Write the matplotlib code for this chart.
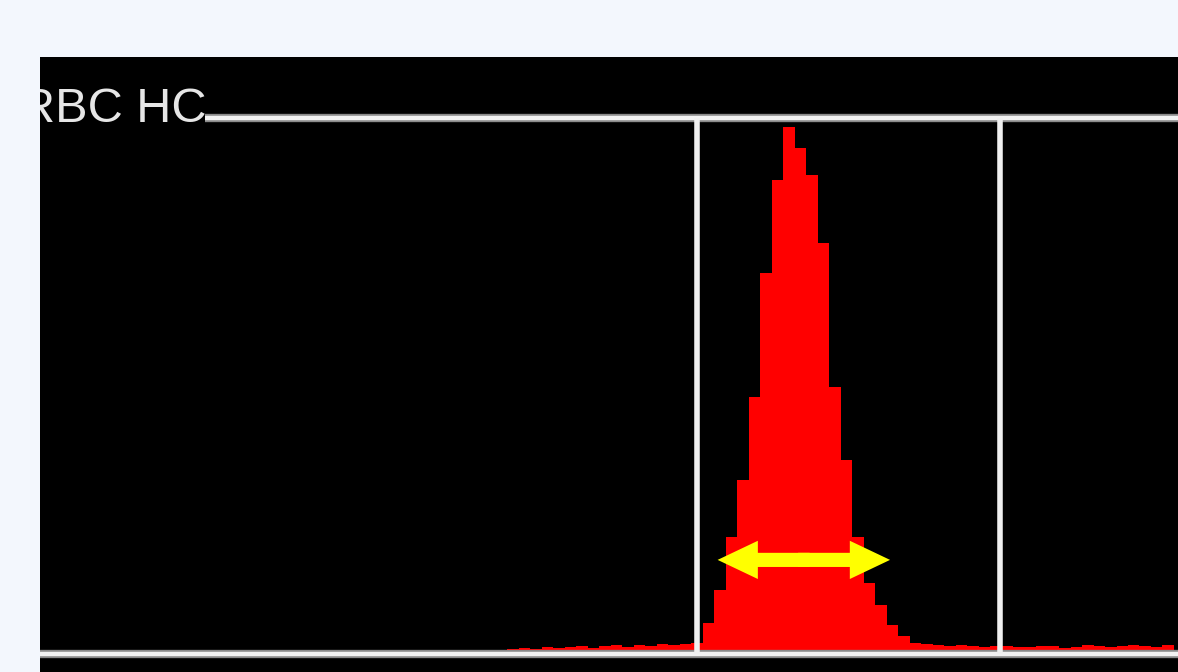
import matplotlib.pyplot as plt
import numpy as np

# histogram channels and heights (peak scaled to 100)
channels = np.arange(40, 99)
left_tail = [0, 0.3, 0.6, 0.4, 0.8, 0.5, 0.7, 1.0, 0.6, 0.9, 1.1, 0.8, 1.2, 1.0, 1.3, 1.1, 1.4, 1.6]
peak = [5.3, 11.6, 21.8, 32.6, 48.5, 72.1, 89.9, 100, 96, 90.8, 77.9, 50.4, 36.5, 21.8, 13, 8.8, 5.0, 2.8]
right_tail = [1.6, 1.3, 1.2, 1.0, 1.1, 0.9, 0.8, 1.0, 0.9, 0.7, 0.8, 1.0, 0.9, 0.6, 0.8, 1.1, 0.9, 0.7, 1.0, 1.2, 0.9, 0.8, 1.1]
counts = left_tail + peak + right_tail

# discriminators, top line level, and width marker
discriminators = [57.5, 83.9]
top_level = 101.7
top_line_start = 14.7
width_marker = (59.3, 74.3, 17.4)
label = "RBC HC"

fig = plt.figure(figsize=(11.78, 6.72), dpi=100)
fig.patch.set_facecolor("#f3f7fd")
ax = fig.add_axes([40 / 1178, 0, 1138 / 1178, 615 / 672])
ax.set_facecolor("black")
for s in ax.spines.values():
    s.set_visible(False)
ax.set_xticks([])
ax.set_yticks([])
ax.set_xlim(0.35, 99.35)
ax.set_ylim(-4.0, 113.4)

edges = np.append(channels, channels[-1] + 1)
ax.stairs(counts, edges, fill=True, color="#ff0000", zorder=2)

# frame lines
for lw, col in [(6, "#8a8a8a"), (3.2, "#f2f2f2")]:
    ax.hlines(top_level, top_line_start, 99.35, color=col, lw=lw, zorder=3)
    ax.axhline(-0.6, color=col, lw=lw, zorder=3)
ax.vlines(discriminators, -0.6, top_level, color="#f0f0f0", lw=4, zorder=4)

# yellow double arrow: two halves from the middle, overlapping a little
x0, x1, y = width_marker
mid = (x0 + x1) / 2
for start, end in ((mid - 0.5, x1), (mid + 0.5, x0)):
    ax.arrow(start, y, end - start, 0, width=2.7, head_width=7.3, head_length=3.5,
             length_includes_head=True, color="#ffff00", lw=0, zorder=5)

ax.text(-0.0176, 0.894, label, transform=ax.transAxes, clip_on=True,
        fontsize=35, family="Liberation Sans", color="#e6e6e6",
        va="baseline", ha="left", zorder=6)

fig.savefig("out.png", dpi=100, facecolor=fig.get_facecolor())
